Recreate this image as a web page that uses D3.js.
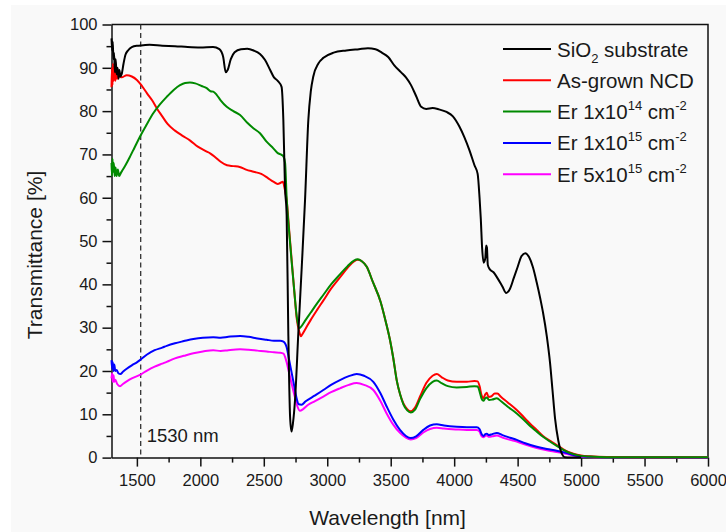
<!DOCTYPE html>
<html>
<head>
<meta charset="utf-8">
<script src="https://cdn.jsdelivr.net/npm/d3@7"></script>
<style>
  body { margin: 0; background: #ffffff; }
  svg { display: block; font-family: "Liberation Sans", Arial, sans-serif; }
</style>
</head>
<body>
<div id="chart"></div>
<script>
// Transmittance spectra, [wavelength nm, transmittance %]
var sio2 = [[1300,96.8],[1305,94],[1310,96],[1315,92],[1320,93.5],[1327,89],[1333,92],[1340,88.5],[1348,90],[1355,87.5],[1362,89.5],[1370,88],[1380,88.5],[1395,91],[1410,93],[1430,94],[1460,94.8],[1500,95.1],[1550,95.2],[1600,95.3],[1700,95.1],[1800,95],[1900,94.8],[2000,94.7],[2100,94.8],[2150,94.3],[2180,92.5],[2200,89],[2215,89.5],[2240,92],[2270,93.6],[2320,94.3],[2370,94.4],[2420,94],[2470,93.2],[2510,91.8],[2550,89.5],[2580,87.8],[2610,87],[2640,85.6],[2654,78],[2667,62.5],[2680,56],[2693,29],[2707,9.5],[2718,6],[2730,8],[2746,13.3],[2772,28.7],[2799,44],[2825,59.5],[2851,78],[2870,84.5],[2890,88],[2930,91],[2970,92.3],[3050,93.5],[3150,94],[3250,94.3],[3320,94.5],[3380,94.3],[3430,93.5],[3480,92.5],[3530,90.5],[3580,89],[3620,87.8],[3660,86],[3700,83.5],[3740,81],[3780,80.5],[3830,80.7],[3880,80.4],[3940,79.8],[3990,78.8],[4040,76.5],[4080,74],[4120,71],[4160,67.5],[4185,65.5],[4200,60],[4210,55],[4220,48.5],[4232,45],[4245,46],[4252,49],[4258,48.5],[4265,44.5],[4280,43.5],[4310,42.8],[4340,41.5],[4380,39.5],[4410,38],[4440,39],[4470,41.5],[4500,44],[4530,46.5],[4560,47.2],[4590,46.3],[4620,44],[4650,40.5],[4680,36.5],[4700,33.5],[4730,28],[4755,22],[4775,15.5],[4795,9],[4820,4],[4850,0.8],[4870,0.1],[5000,0]];

var asGrown = [[1300,85.5],[1304,90],[1308,86],[1312,91],[1316,87],[1322,89.5],[1330,87],[1338,89],[1345,87.5],[1360,88],[1380,87.8],[1420,88.3],[1460,88],[1500,87.2],[1540,85.8],[1580,84.1],[1620,82.5],[1660,80.5],[1700,78.8],[1740,77.1],[1800,75.5],[1860,74.3],[1920,73.2],[1980,71.8],[2040,70.8],[2080,70.2],[2120,69.3],[2160,68.3],[2210,67.5],[2260,67.3],[2310,67.1],[2360,66.5],[2420,66],[2480,65.5],[2530,64.6],[2575,63.7],[2610,63.2],[2630,63.4],[2650,63.7],[2665,62],[2680,59.5],[2700,52.5],[2720,45.5],[2740,38.5],[2760,32],[2780,29],[2792,28],[2800,28.3],[2830,29.8],[2870,31.8],[2920,34.1],[2970,36.3],[3030,39],[3100,41.6],[3160,43.8],[3210,45.3],[3240,45.7],[3270,45.4],[3310,44.1],[3360,40.5],[3420,36],[3460,31.5],[3494,27.2],[3520,23],[3547,17.9],[3575,14.5],[3600,12.5],[3630,11.2],[3658,10.7],[3690,11.5],[3731,14.1],[3780,17.2],[3830,18.9],[3863,19.3],[3900,18.6],[3950,17.8],[4020,17.5],[4100,17.5],[4160,17.7],[4185,17.6],[4200,16.5],[4215,14.5],[4230,13.7],[4245,14.6],[4257,15],[4270,14],[4290,14.1],[4320,14.8],[4340,14.8],[4370,14],[4420,12.8],[4493,11],[4560,9],[4610,7.5],[4651,6.4],[4700,5],[4760,3.8],[4808,2.9],[4860,1.9],[4900,1.3],[4940,0.9],[5000,0.5],[5070,0.3],[5200,0.15],[5500,0.1],[6000,0.1]];

var er14 = [[1300,68],[1304,65],[1308,69],[1312,66],[1318,68],[1325,65],[1332,67],[1340,65],[1350,66.5],[1360,65],[1375,65.8],[1390,66.5],[1410,67.5],[1446,69.5],[1480,71.5],[1524,74.1],[1575,76.8],[1629,79.5],[1680,81.5],[1735,83.3],[1790,84.9],[1840,86],[1880,86.5],[1918,86.6],[1960,86.4],[2010,85.8],[2050,85.3],[2080,84.6],[2102,84.5],[2130,83.7],[2160,82.5],[2208,81],[2260,80],[2313,79.1],[2370,77.3],[2420,76],[2470,74.9],[2520,73],[2575,71.4],[2610,70.3],[2640,69.9],[2655,69.5],[2668,68],[2680,60],[2700,52],[2720,45],[2740,38.5],[2760,32.5],[2780,29.9],[2790,30.1],[2830,31.8],[2870,33.5],[2920,35.6],[2970,37.6],[3030,40],[3100,42.3],[3160,44.2],[3210,45.5],[3240,45.8],[3270,45.4],[3310,44.1],[3360,40.5],[3420,36],[3460,31.5],[3494,27.2],[3520,23],[3547,17.9],[3575,14.5],[3600,12.3],[3630,10.9],[3658,10.4],[3690,11],[3731,13.5],[3780,16],[3830,17.5],[3863,17.8],[3900,17.2],[3950,16.5],[4020,16.2],[4100,16.3],[4160,16.5],[4185,16.4],[4200,15.3],[4215,13.7],[4230,13.1],[4245,13.7],[4257,13.9],[4275,13.3],[4300,13.4],[4336,13.7],[4370,13],[4420,11.8],[4493,10.2],[4560,8.4],[4610,7],[4651,6],[4700,4.8],[4760,3.6],[4808,2.7],[4860,1.8],[4900,1.2],[4940,0.8],[5000,0.4],[5070,0.25],[5200,0.1],[6000,0.1]];

var er15 = [[1300,22.5],[1305,20.5],[1310,22],[1316,20],[1322,21.5],[1330,20],[1340,20.2],[1354,19.5],[1370,19.3],[1390,19.8],[1420,20.5],[1460,21.3],[1500,22],[1524,22.5],[1580,23.8],[1640,24.8],[1700,25.4],[1735,25.8],[1800,26.4],[1870,26.9],[1945,27.4],[2020,27.7],[2102,27.8],[2160,27.7],[2220,27.9],[2313,28.1],[2380,27.9],[2450,27.5],[2523,27.2],[2580,27],[2628,27],[2655,26.8],[2667,26.4],[2680,25.5],[2700,22.5],[2720,19.5],[2740,16.5],[2760,13.5],[2775,12.3],[2797,12.2],[2830,13],[2900,14.3],[2969,15.6],[3030,16.8],[3100,17.9],[3170,18.8],[3232,19.3],[3290,18.9],[3363,17.5],[3420,14.8],[3468,11.8],[3520,8.8],[3573,6.4],[3620,5],[3658,4.5],[3700,4.9],[3757,6.4],[3810,7.4],[3863,7.7],[3920,7.4],[4020,7.1],[4100,7],[4178,7],[4200,6.6],[4215,5.5],[4230,5],[4245,5.4],[4257,5.5],[4275,5.2],[4300,5.4],[4336,5.7],[4380,5.2],[4440,4.6],[4493,4.1],[4560,3.3],[4651,2.5],[4730,2],[4808,1.6],[4880,1.1],[4940,0.6],[5000,0.3],[5100,0.12],[5300,0.08],[6000,0.05]];

var er5x15 = [[1300,18.3],[1305,19.5],[1310,17.5],[1316,19],[1322,17.5],[1330,18],[1345,17],[1367,16.5],[1390,17],[1420,17.6],[1460,18.3],[1524,19.1],[1580,20.1],[1640,21],[1700,21.7],[1735,22.1],[1800,22.9],[1870,23.5],[1945,24.1],[2020,24.5],[2102,24.8],[2160,24.6],[2220,24.8],[2313,25],[2380,24.9],[2450,24.7],[2523,24.5],[2580,24.3],[2628,24.2],[2655,24],[2667,23.3],[2680,22],[2700,19.5],[2720,17],[2745,14],[2765,11.8],[2785,10.8],[2810,11.2],[2850,12.2],[2900,13],[2969,14.1],[3030,15.1],[3100,16],[3170,16.8],[3232,17.2],[3290,16.8],[3363,15.6],[3420,13],[3468,10.2],[3520,7.6],[3573,5.7],[3620,4.6],[3658,4.2],[3700,4.5],[3757,5.8],[3810,6.6],[3863,6.9],[3920,6.7],[4020,6.5],[4100,6.4],[4178,6.4],[4200,6],[4215,5],[4230,4.7],[4245,5],[4257,5.1],[4275,4.8],[4300,4.9],[4336,5.1],[4380,4.6],[4440,4.1],[4493,3.7],[4560,3],[4651,2.2],[4730,1.7],[4808,1.3],[4880,0.9],[4940,0.5],[5000,0.25],[5100,0.1],[5300,0.06],[6000,0.05]];

var xTicks = [1500, 2000, 2500, 3000, 3500, 4000, 4500, 5000, 5500, 6000];
var yTicks = [0, 10, 20, 30, 40, 50, 60, 70, 80, 90, 100];
var markerNm = 1530;

// SVG size and margins
var svgWidth = 726;
var svgHeight = 532;

var margin = {
  top: 24.5,
  right: 18,
  bottom: 74.4,
  left: 111.5
};

var chartWidth = svgWidth - margin.left - margin.right;
var chartHeight = svgHeight - margin.top - margin.bottom;

var svg = d3.select("#chart")
  .append("svg")
  .attr("width", svgWidth)
  .attr("height", svgHeight);

// light grey page behind the figure
svg.append("rect")
  .attr("x", 11)
  .attr("y", 5)
  .attr("width", svgWidth - 11)
  .attr("height", svgHeight - 5)
  .attr("fill", "#f9f9f9");

var chartGroup = svg.append("g")
  .attr("transform", `translate(${margin.left}, ${margin.top})`);

// scales
var xScale = d3.scaleLinear()
  .domain([1300, 6000])
  .range([0, chartWidth]);

var yScale = d3.scaleLinear()
  .domain([0, 100])
  .range([chartHeight, 0]);

// minor ticks
var xMinor = d3.range(1750, 6000, 500);
var yMinor = d3.range(5, 100, 10);

chartGroup.append("g")
  .attr("transform", `translate(0, ${chartHeight})`)
  .call(d3.axisBottom(xScale).tickValues(xMinor).tickSize(5).tickFormat(""))
  .call(g => g.select(".domain").remove());

chartGroup.append("g")
  .call(d3.axisLeft(yScale).tickValues(yMinor).tickSize(5).tickFormat(""))
  .call(g => g.select(".domain").remove());

// major axes
var bottomAxis = d3.axisBottom(xScale)
  .tickValues(xTicks)
  .tickSize(9)
  .tickSizeOuter(0)
  .tickPadding(8)
  .tickFormat(d3.format("d"));

var leftAxis = d3.axisLeft(yScale)
  .tickValues(yTicks)
  .tickSize(9)
  .tickSizeOuter(0)
  .tickPadding(5);

var xAxisG = chartGroup.append("g")
  .attr("transform", `translate(0, ${chartHeight})`)
  .call(bottomAxis);

var yAxisG = chartGroup.append("g")
  .call(leftAxis);

[xAxisG, yAxisG].forEach(function(g) {
  g.selectAll("text")
    .style("font-size", "16.5px")
    .style("font-family", "Liberation Sans, Arial, sans-serif")
    .attr("fill", "#1a1a1a");
});

chartGroup.selectAll(".tick line, .domain")
  .attr("stroke", "#111")
  .attr("stroke-width", 1.5);

// top and right frame
chartGroup.append("path")
  .attr("d", `M0,0H${chartWidth}V${chartHeight}`)
  .attr("fill", "none")
  .attr("stroke", "#111")
  .attr("stroke-width", 1.5);

// dashed marker at 1530 nm
chartGroup.append("line")
  .attr("x1", xScale(markerNm))
  .attr("x2", xScale(markerNm))
  .attr("y1", 0)
  .attr("y2", chartHeight)
  .attr("stroke", "#333")
  .attr("stroke-width", 1.3)
  .attr("stroke-dasharray", "5,3.5");

chartGroup.append("text")
  .attr("x", xScale(markerNm) + 6)
  .attr("y", yScale(3.7))
  .style("font-size", "18.5px")
  .attr("fill", "#1a1a1a")
  .text(markerNm + " nm");

// spectra
var series = [
  { name: "sio2", values: sio2, color: "#000000" },
  { name: "er5x15", values: er5x15, color: "#ff00ff" },
  { name: "er15", values: er15, color: "#0000ff" },
  { name: "asGrown", values: asGrown, color: "#ff0000" },
  { name: "er14", values: er14, color: "#008a00" }
];

var line = d3.line()
  .x(d => xScale(d[0]))
  .y(d => yScale(d[1]))
  .curve(d3.curveMonotoneX);

// draw coloured curves first, substrate on top
var drawOrder = [1, 2, 3, 4, 0];
drawOrder.forEach(function(i) {
  chartGroup.append("path")
    .datum(series[i].values)
    .attr("d", line)
    .attr("fill", "none")
    .attr("stroke", series[i].color)
    .attr("stroke-width", 2)
    .attr("stroke-linejoin", "round");
});

// axis titles
svg.append("text")
  .attr("x", margin.left + xScale(3475))
  .attr("y", 525)
  .attr("text-anchor", "middle")
  .style("font-size", "21px")
  .attr("fill", "#1a1a1a")
  .text("Wavelength [nm]");

svg.append("text")
  .attr("transform", "translate(42, 255) rotate(-90)")
  .attr("text-anchor", "middle")
  .style("font-size", "21px")
  .attr("fill", "#1a1a1a")
  .text("Transmittance [%]");

// legend
var legendItems = [
  { color: "#000000", parts: [["SiO", 0], ["2", -1], [" substrate", 0]] },
  { color: "#ff0000", parts: [["As-grown NCD", 0]] },
  { color: "#008a00", parts: [["Er 1x10", 0], ["14", 1], [" cm", 0], ["-2", 1]] },
  { color: "#0000ff", parts: [["Er 1x10", 0], ["15", 1], [" cm", 0], ["-2", 1]] },
  { color: "#ff00ff", parts: [["Er 5x10", 0], ["15", 1], [" cm", 0], ["-2", 1]] }
];

var legend = svg.append("g")
  .attr("transform", "translate(503, 49)");

legendItems.forEach(function(item, i) {
  var row = legend.append("g")
    .attr("transform", `translate(0, ${i * 31.3})`);

  row.append("line")
    .attr("x1", 0)
    .attr("x2", 48)
    .attr("stroke", item.color)
    .attr("stroke-width", 2);

  var t = row.append("text")
    .attr("x", 54)
    .attr("y", 7.5)
    .style("font-size", "20.5px")
    .attr("fill", "#1a1a1a");

  var shift = 0;
  item.parts.forEach(function(p) {
    var target = p[1] === 1 ? -9 : (p[1] === -1 ? 6 : 0);
    t.append("tspan")
      .attr("dy", target - shift)
      .style("font-size", p[1] === 0 ? "20.5px" : "13px")
      .text(p[0]);
    shift = target;
  });
});
</script>
</body>
</html>
